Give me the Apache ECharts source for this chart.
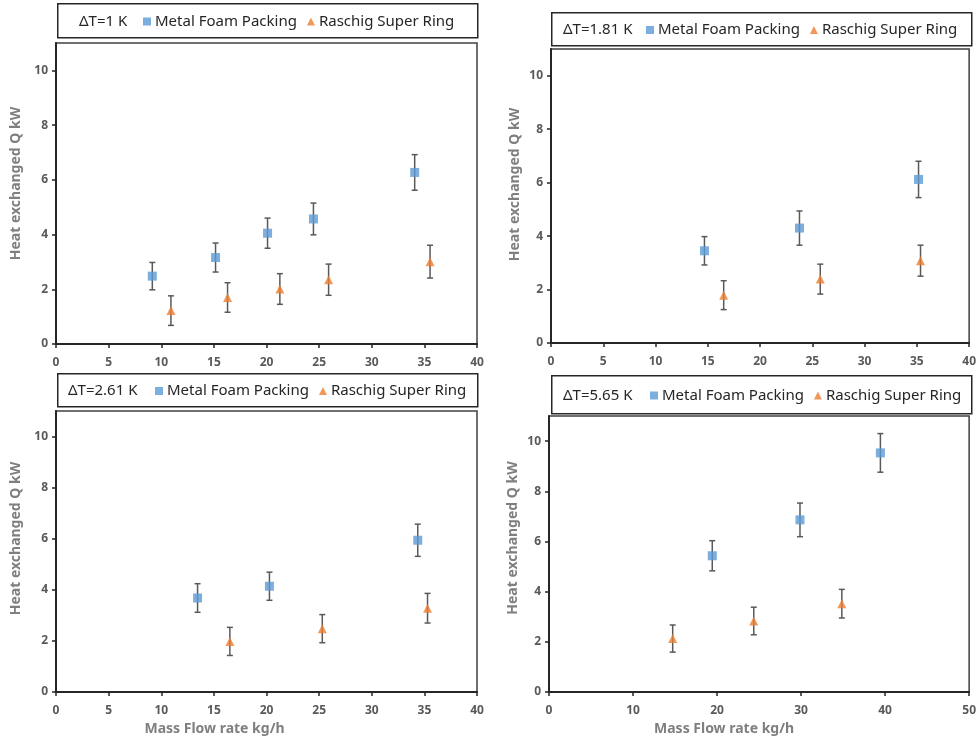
<!DOCTYPE html>
<html>
<head>
<meta charset="utf-8">
<script src="https://cdn.jsdelivr.net/npm/echarts@6/dist/echarts.min.js"></script>
<style>
  html, body { margin: 0; padding: 0; background: #fff; }
  #main { width: 979px; height: 740px; }
</style>
</head>
<body>
<div id="main"></div>
<script>
// delta T of each panel
var dT = ['ΔT=1 K', 'ΔT=1.81 K', 'ΔT=2.61 K', 'ΔT=5.65 K']
var xMax = [40, 40, 40, 50]
var xStep = [5, 5, 5, 10]

// Metal Foam Packing: x, Q, error
var mfX1 = [9.15, 15.16, 20.1, 24.46, 34.08]
var mfY1 = [2.48, 3.16, 4.05, 4.57, 6.27]
var mfE1 = [0.5, 0.53, 0.55, 0.58, 0.65]
var mfX2 = [14.68, 23.77, 35.16]
var mfY2 = [3.45, 4.3, 6.12]
var mfE2 = [0.53, 0.64, 0.68]
var mfX3 = [13.45, 20.28, 34.37]
var mfY3 = [3.68, 4.14, 5.94]
var mfE3 = [0.56, 0.55, 0.63]
var mfX4 = [19.43, 29.87, 39.44]
var mfY4 = [5.43, 6.86, 9.53]
var mfE4 = [0.6, 0.67, 0.77]

// Raschig Super Ring: x, Q, error
var rsX1 = [10.92, 16.3, 21.27, 25.9, 35.54]
var rsY1 = [1.22, 1.7, 2.01, 2.35, 3.01]
var rsE1 = [0.54, 0.54, 0.56, 0.57, 0.6]
var rsX2 = [16.52, 25.76, 35.35]
var rsY2 = [1.79, 2.39, 3.08]
var rsE2 = [0.54, 0.56, 0.58]
var rsX3 = [16.52, 25.3, 35.3]
var rsY3 = [1.98, 2.48, 3.28]
var rsE3 = [0.55, 0.55, 0.58]
var rsX4 = [14.72, 24.37, 34.85]
var rsY4 = [2.13, 2.83, 3.52]
var rsE4 = [0.54, 0.55, 0.57]

var mf = [[mfX1, mfY1, mfE1], [mfX2, mfY2, mfE2], [mfX3, mfY3, mfE3], [mfX4, mfY4, mfE4]]
var rs = [[rsX1, rsY1, rsE1], [rsX2, rsY2, rsE2], [rsX3, rsY3, rsE3], [rsX4, rsY4, rsE4]]

// layout
var grids = [
  {left: 56, top: 43, width: 421, height: 301},
  {left: 551, top: 49, width: 421, height: 294},
  {left: 56, top: 411, width: 421, height: 281},
  {left: 549, top: 416, width: 424, height: 276}
]
var boxes = [
  {x: 57, y: 3, w: 420, h: 34, tx: 79, leg: 143},
  {x: 551, y: 12, w: 420, h: 33, tx: 563, leg: 646},
  {x: 57, y: 373, w: 420, h: 33, tx: 68, leg: 155},
  {x: 551, y: 375, w: 420, h: 38, tx: 563, leg: 650}
]
var yShift = [20, 23, 26, 32]
var yGap = [33, 29, 33, 29]

var font = 'Noto Sans'
var blue = '#5b9bd5'
var orange = '#ed7d31'

function toPts (arr) {
  var out = []
  for (var i = 0; i < arr[0].length; i++) out.push([arr[0][i], arr[1][i], arr[2][i]])
  return out
}

function renderErr (params, api) {
  var x = api.value(0)
  var y = api.value(1)
  var e = api.value(2)
  var t = api.coord([x, y + e])
  var b = api.coord([x, y - e])
  var st = {stroke: '#595959', lineWidth: 1.5}
  return {
    type: 'group',
    children: [
      {type: 'line', shape: {x1: t[0], y1: t[1], x2: b[0], y2: b[1]}, style: st},
      {type: 'line', shape: {x1: t[0] - 3, y1: t[1], x2: t[0] + 3, y2: t[1]}, style: st},
      {type: 'line', shape: {x1: b[0] - 3, y1: b[1], x2: b[0] + 3, y2: b[1]}, style: st}
    ]
  }
}

var option = {
  backgroundColor: '#fff',
  animation: false,
  grid: [],
  xAxis: [],
  yAxis: [],
  legend: [],
  graphic: [],
  series: []
}

for (var k = 0; k < 4; k++) {
  option.grid.push(Object.assign({
    show: true, borderColor: '#404040', borderWidth: 1.5, backgroundColor: '#fff'
  }, grids[k]))
  option.xAxis.push({
    type: 'value', gridIndex: k, min: 0, max: xMax[k], interval: xStep[k],
    name: k >= 2 ? 'Mass Flow rate kg/h' : '',
    nameLocation: 'middle', nameGap: 30,
    nameTextStyle: {
      fontFamily: font, fontSize: 14, fontWeight: 'bold', color: '#7f7f7f',
      padding: [0, k === 2 ? 104 : 70, 0, 0]
    },
    axisLine: {lineStyle: {color: '#262626', width: 2}},
    axisTick: {inside: false, length: 4, lineStyle: {color: '#262626', width: 1.5}},
    axisLabel: {fontFamily: font, fontSize: 12, fontWeight: 'bold', color: '#595959', margin: 13},
    splitLine: {show: false}
  })
  option.yAxis.push({
    type: 'value', gridIndex: k, min: 0, max: 11, interval: 2,
    name: 'Heat exchanged Q kW',
    nameLocation: 'middle', nameGap: yGap[k],
    nameTextStyle: {
      fontFamily: font, fontSize: 14, fontWeight: 'bold', color: '#7f7f7f',
      padding: [0, 0, 0, yShift[k]]
    },
    axisLine: {lineStyle: {color: '#262626', width: 2}},
    axisTick: {length: 4, lineStyle: {color: '#262626', width: 1.5}},
    axisLabel: {fontFamily: font, fontSize: 12, fontWeight: 'bold', color: '#595959', margin: 8, showMaxLabel: false},
    splitLine: {show: false}
  })
  var b = boxes[k]
  option.graphic.push({
    type: 'rect', left: b.x, top: b.y, z: 10,
    shape: {width: b.w, height: b.h},
    style: {fill: '#fff', stroke: '#262626', lineWidth: 1.5}
  })
  option.graphic.push({
    type: 'text', left: b.tx, top: b.y + b.h / 2 - 6, z: 11,
    style: {text: dT[k], font: '15px "' + font + '"', fill: '#262626'}
  })
  option.legend.push({
    left: b.leg, top: b.y + b.h / 2 - 6, padding: 0, z: 12,
    itemWidth: 8, itemHeight: 8, itemGap: 10,
    textStyle: {fontFamily: font, fontSize: 15, color: '#262626', padding: [0, 0, 0, -1]},
    data: [
      {name: 'Metal Foam Packing', icon: 'rect'},
      {name: 'Raschig Super Ring', icon: 'triangle'}
    ]
  })
  option.series.push({
    name: 'err', type: 'custom', xAxisIndex: k, yAxisIndex: k, z: 2,
    renderItem: renderErr, encode: {x: 0, y: 1}, data: toPts(mf[k])
  })
  option.series.push({
    name: 'err', type: 'custom', xAxisIndex: k, yAxisIndex: k, z: 2,
    renderItem: renderErr, encode: {x: 0, y: 1}, data: toPts(rs[k])
  })
  option.series.push({
    name: 'Metal Foam Packing', type: 'scatter', xAxisIndex: k, yAxisIndex: k, z: 3,
    symbol: 'rect', symbolSize: 9, itemStyle: {color: blue}, data: toPts(mf[k])
  })
  option.series.push({
    name: 'Raschig Super Ring', type: 'scatter', xAxisIndex: k, yAxisIndex: k, z: 3,
    symbol: 'triangle', symbolSize: 9, itemStyle: {color: orange}, data: toPts(rs[k])
  })
}

var myChart = echarts.init(document.getElementById('main'))
myChart.setOption(option)
window.onresize = myChart.resize
</script>
</body>
</html>
